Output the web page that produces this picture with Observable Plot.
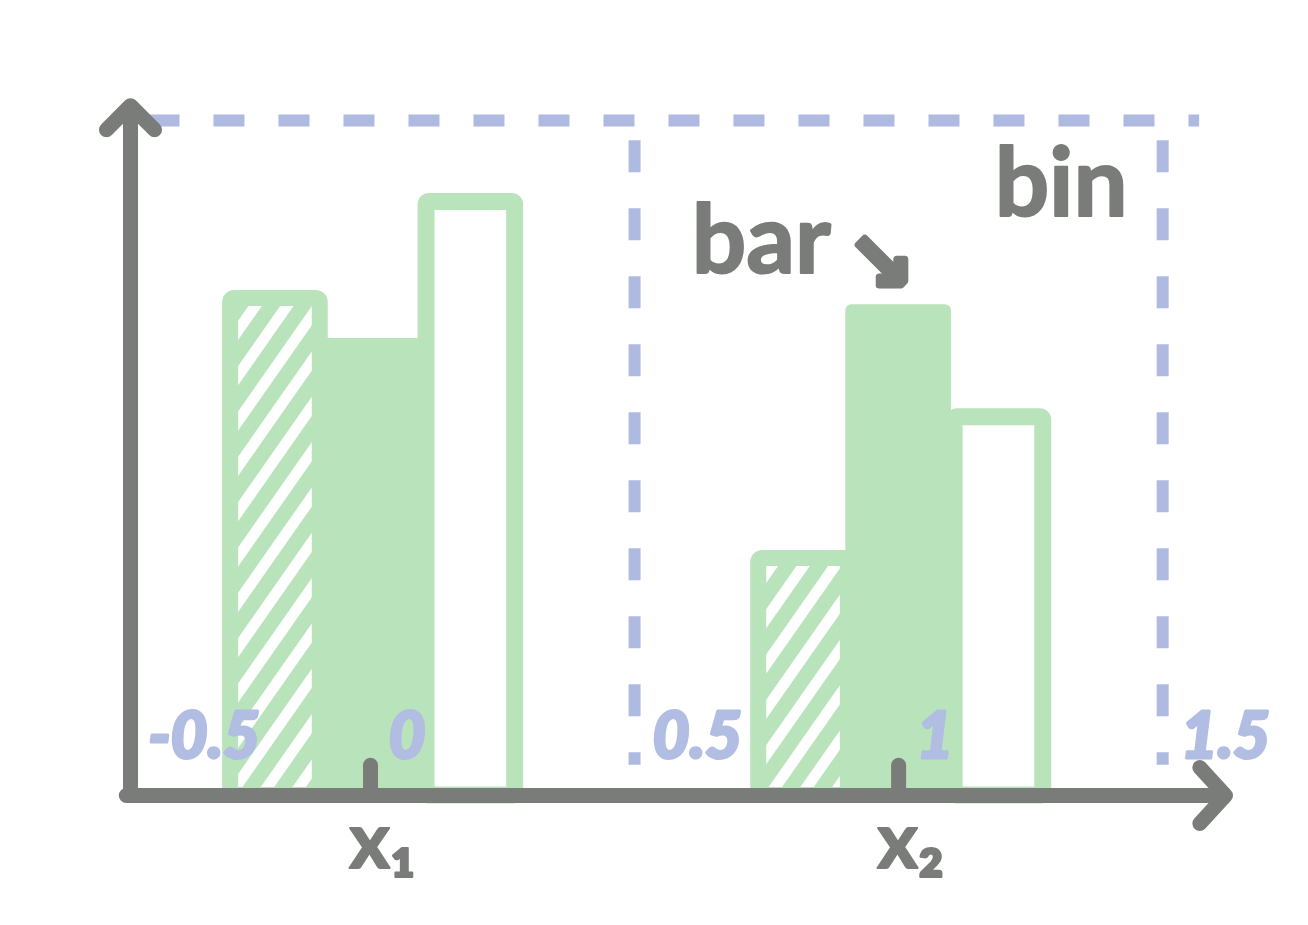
<!DOCTYPE html>
<html>
<head>
<meta charset="utf-8">
<script src="https://cdn.jsdelivr.net/npm/d3@7"></script>
<script src="https://cdn.jsdelivr.net/npm/@observablehq/plot@0.6"></script>
<style>
  html, body { margin: 0; padding: 0; background: #ffffff; }
  #chart svg { display: block; }
</style>
</head>
<body>
<div id="chart"></div>
<script>
// ---- data ----
const bins = ["x₁", "x₂"];
const binCenters = [0, 1];
const binEdges = [-0.5, 0.5, 1.5];
const series = ["hatched", "filled", "outlined"];
const hatchedValues = [7.48, 3.63];
const filledValues = [6.77, 7.27];
const outlinedValues = [8.92, 5.73];
const tickValues = [-0.5, 0, 0.5, 1, 1.5];
const tickLabels = ["-0.5", "0", "0.5", "1", "1.5"];
const annotations = ["bar", "bin"];

// ---- layout ----
const W = 1308, H = 925;
const xDomain = [-0.4545, 1.619];
const yDomain = [0, 10];
const seriesOffset = {hatched: -0.28, filled: -0.1, outlined: 0.09};
const barWidth = 0.2;
const gray = "#7a7c7a";
const green = "#b9e3bb";
const dashBlue = "#aebadf";
const labelBlue = "#b1bde2";
const font = "Lato, 'Noto Sans', sans-serif";

const valuesBySeries = {hatched: hatchedValues, filled: filledValues, outlined: outlinedValues};
const rows = [];
series.forEach(s => bins.forEach((b, i) => rows.push({
  bin: b, center: binCenters[i], series: s, value: valuesBySeries[s][i],
  x1: binCenters[i] + seriesOffset[s], x2: binCenters[i] + seriesOffset[s] + barWidth
})));
const of = s => rows.filter(d => d.series === s);
const ticks = tickValues.map((v, i) => ({x: Math.max(v, xDomain[0]), label: tickLabels[i]}));
const binLabels = bins.map((b, i) => ({x: binCenters[i], label: b}));
const filledBar2 = of("filled")[1];

const svg = Plot.plot({
  width: W, height: H,
  marginLeft: 130, marginRight: 83, marginTop: 120, marginBottom: 130,
  x: {domain: xDomain, axis: null},
  y: {domain: yDomain, axis: null},
  style: {background: "#ffffff", overflow: "visible"},
  marks: [
    // dashed bin outlines
    Plot.ruleY([yDomain[1]], {x1: xDomain[0] + 0.035, x2: binEdges[2] + 0.07,
      stroke: dashBlue, strokeWidth: 12, strokeDasharray: "31,34"}),
    Plot.ruleX(binEdges.filter(e => e > xDomain[0]), {y1: yDomain[1] - 0.3, y2: 0.45,
      stroke: dashBlue, strokeWidth: 12, strokeDasharray: "32,36"}),
    // bars
    Plot.rect(of("filled"), {x1: "x1", x2: "x2", y1: 0, y2: "value", fill: green, rx: 6}),
    Plot.rect(of("hatched"), {x1: "x1", x2: "x2", y1: 0, y2: "value",
      fill: "url(#hatch)", stroke: green, strokeWidth: 16, rx: 4,
      insetLeft: 8, insetRight: 8, insetTop: 8}),
    Plot.rect(of("outlined"), {x1: "x1", x2: "x2", y1: 0, y2: "value",
      fill: "none", stroke: green, strokeWidth: 17, rx: 3,
      insetLeft: 8.5, insetRight: 8.5, insetTop: 8.5}),
    // tick labels
    Plot.text(ticks, {x: "x", y: 0, text: "label", dx: 18, dy: -58, textAnchor: "start",
      lineAnchor: "middle", fill: labelBlue, stroke: labelBlue, strokeWidth: 3,
      strokeLinejoin: "round", fontSize: 64, fontWeight: 900,
      fontStyle: "italic", fontFamily: font}),
    // axes
    Plot.ruleX(binCenters, {y1: 0, y2: 0.44, stroke: gray, strokeWidth: 15, strokeLinecap: "round"}),
    Plot.arrow([{}], {x1: () => xDomain[0] - 0.008, y1: 0, x2: () => xDomain[1], y2: 0,
      stroke: gray, strokeWidth: 15, headAngle: 95, headLength: 3.8,
      strokeLinecap: "round", strokeLinejoin: "round"}),
    Plot.arrow([{}], {x1: () => xDomain[0], y1: 0, x2: () => xDomain[0], y2: () => yDomain[1] + 0.22,
      stroke: gray, strokeWidth: 15, headAngle: 90, headLength: 3.4,
      strokeLinecap: "round", strokeLinejoin: "round"}),
    // bin labels under axis
    Plot.text(binLabels, {x: "x", y: 0, text: "label", dx: 12, dy: 48, lineAnchor: "middle",
      fill: gray, stroke: gray, strokeWidth: 2, strokeLinejoin: "round",
      fontSize: 78, fontWeight: "bold", fontFamily: font}),
    // annotations
    Plot.text([annotations[0]], {x: () => filledBar2.x1, y: () => filledBar2.value, text: d => d,
      dx: -15, dy: -32, textAnchor: "end", lineAnchor: "bottom",
      fill: gray, stroke: gray, strokeWidth: 2, strokeLinejoin: "round",
      fontSize: 96, fontWeight: "bold", fontFamily: font}),
    Plot.text(["↘"], {x: () => (filledBar2.x1 + filledBar2.x2) / 2, y: () => filledBar2.value,
      text: d => d, dx: -18, dy: -40, textAnchor: "middle", lineAnchor: "middle",
      fill: gray, stroke: gray, strokeWidth: 7, strokeLinejoin: "round", strokeLinecap: "round",
      fontSize: 80, fontWeight: "bold", fontFamily: "'DejaVu Sans', sans-serif"}),
    Plot.text([annotations[1]], {x: () => binEdges[2], y: () => yDomain[1], text: d => d,
      dx: -35, dy: 95, textAnchor: "end", lineAnchor: "bottom",
      fill: gray, stroke: gray, strokeWidth: 2, strokeLinejoin: "round",
      fontSize: 96, fontWeight: "bold", fontFamily: font})
  ]
});

const defs = document.createElementNS("http://www.w3.org/2000/svg", "defs");
defs.innerHTML = `<pattern id="hatch" patternUnits="userSpaceOnUse" width="26" height="40" patternTransform="rotate(35)">
  <rect width="26" height="40" fill="#ffffff"></rect>
  <rect width="15" height="40" fill="${green}"></rect>
</pattern>`;
svg.insertBefore(defs, svg.firstChild);
document.getElementById("chart").appendChild(svg);
</script>
</body>
</html>
